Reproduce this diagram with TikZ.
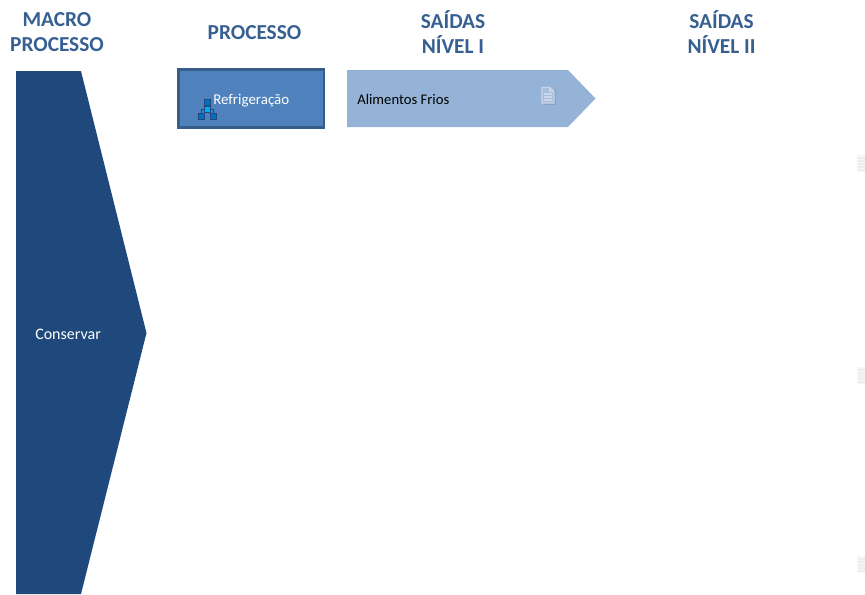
\documentclass[tikz,border=0pt]{standalone}
\usepackage{fontspec}
\setmainfont{Carlito}
\definecolor{headblue}{HTML}{376092}
\definecolor{macroblue}{HTML}{1F497D}
\definecolor{procfill}{HTML}{4F81BD}
\definecolor{procline}{HTML}{385D8A}
\definecolor{outfill}{HTML}{95B3D7}
\definecolor{iconline}{HTML}{C9D6E8}
\definecolor{iconshade}{HTML}{86A2C6}
\definecolor{ghost}{HTML}{EDEDED}
\definecolor{orgdark}{HTML}{0070C0}
\definecolor{orgline}{HTML}{1F497D}
\tikzset{
  x=0.75pt,y=-0.75pt,
  heading/.style={font=\fontsize{16pt}{18.75pt}\selectfont\bfseries,text=headblue,align=center,inner sep=0pt},
  label/.style={inner sep=0pt,anchor=west},
  orgbox/.style={draw=orgline,line width=0.3pt,fill=orgdark,minimum size=4.7pt,inner sep=0pt},
  orglink/.style={draw=orgline,line width=0.4pt},
  ghostline/.style={draw=ghost,line width=0.9pt},
}
\newcommand{\ghosticon}[2]{%
  \fill[ghost!45] (#1,#2) rectangle (865,#2+17);
  \foreach \k in {3,6,9,12,15} {\draw[ghostline] (#1+1,#2+\k) -- (865,#2+\k);}
}
\begin{document}
\begin{tikzpicture}
\useasboundingbox (0,0) rectangle (865,594);
\node[heading] (hmacro) at (57,32) {MACRO\\PROCESSO};
\node[heading] (hproc) at (254.5,32.5) {PROCESSO};
\node[heading] (hout1) at (453,32) {SAÍDAS\\NÍVEL I};
\node[heading] (hout2) at (721.5,32) {SAÍDAS\\NÍVEL II};
% macro shape
\fill[macroblue] (16,71) -- (81,71) -- (146.5,333) -- (81,594) -- (16,594) -- cycle;
\node[label,text=white,font=\fontsize{12pt}{14pt}\selectfont] (conservar) at (35,334) {Conservar};
% process box
\draw[fill=procfill,draw=procline,line width=1.7pt] (178.5,69.5) rectangle (324,127.5);
\node[label,text=white,font=\fontsize{11.2pt}{13pt}\selectfont] (refrig) at (213,100.5) {Refrigeração};
% org icon
\node[orgbox] (o1) at (207,102) {};
\node[orgbox,fill=cyan] (o2) at (207,109.5) {};
\node[orgbox] (o3) at (201.3,116) {};
\node[orgbox] (o4) at (213.5,116) {};
\draw[orglink] (o1) -- (o2);
\draw[orglink] (o2.west) -| (o3.north);
\draw[orglink] (o2.east) -| (o4.north);
% output arrow
\fill[outfill] (347,70) -- (568,70) -- (595.5,98.5) -- (568,127) -- (347,127) -- cycle;
\node[label,text=black,font=\fontsize{11pt}{13pt}\selectfont] (alim) at (357,99) {Alimentos Frios};
% document icon
\fill[iconshade] (543.5,89) -- (555.5,89) -- (555.5,104.5) -- (543.5,104.5) -- cycle;
\draw[iconline,line width=0.8pt,fill=outfill!85!white] (542,87.5) -- (550,87.5) -- (554,91) -- (554,103) -- (542,103) -- cycle;
\draw[iconline,line width=0.8pt] (550,87.5) -- (550,91) -- (554,91)
  (544,94) -- (552,94) (544,97) -- (552,97) (544,100) -- (552,100);
% clipped icons at the right edge
\ghosticon{857}{155}
\ghosticon{857}{367}
\ghosticon{857}{556}
\end{tikzpicture}
\end{document}
